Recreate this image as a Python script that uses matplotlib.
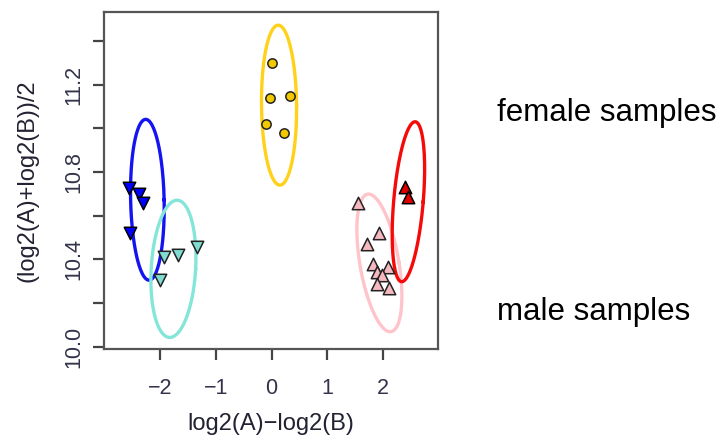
#MA-style plot of two-colour samples with group ellipses
import matplotlib.pyplot as plt
import numpy as np

plt.rcParams['font.family'] = ['Liberation Sans', 'DejaVu Sans']

#points per group: x = log2(A)-log2(B), y = (log2(A)+log2(B))/2
blue_x = [-2.55, -2.37, -2.30, -2.53]
blue_y = [10.725, 10.70, 10.66, 10.52]
cyan_x = [-1.93, -1.67, -1.34, -1.99]
cyan_y = [10.41, 10.42, 10.455, 10.305]
gold_x = [0.00, -0.02, 0.33, -0.10, 0.22]
gold_y = [11.30, 11.14, 11.15, 11.02, 10.98]
pink_x = [1.55, 1.93, 1.71, 1.82, 2.08, 1.89, 1.97, 1.88, 2.11]
pink_y = [10.66, 10.52, 10.47, 10.38, 10.366, 10.343, 10.33, 10.287, 10.267]
red_x = [2.39, 2.45]
red_y = [10.73, 10.686]

#ellipses: centre, half width, half height, shift of the top point
ell_names = ['blue', 'cyan', 'gold', 'pink', 'red']
ell_cx = [-2.223, -1.757, 0.134, 1.93, 2.45]
ell_cy = [10.673, 10.357, 11.106, 10.384, 10.664]
ell_rx = [0.30, 0.398, 0.314, 0.353, 0.265]
ell_ry = [0.368, 0.314, 0.366, 0.315, 0.366]
ell_skew = [-0.03, 0.065, -0.015, -0.194, 0.119]

x_ticks = [-2, -1, 0, 1, 2]
y_ticks = [10.0, 10.2, 10.4, 10.6, 10.8, 11.0, 11.2, 11.4]
y_ticklabels = ['10.0', '', '10.4', '', '10.8', '', '11.2', '']

line_col = {'blue': '#1414f2', 'cyan': '#84e6d8', 'gold': '#ffd11a',
            'pink': '#ffc4ca', 'red': '#f50a0a'}

fig = plt.figure(figsize=(7.24, 4.40), dpi=100)
ax = fig.add_axes([0.1436, 0.2068, 0.4614, 0.7648])

t = np.linspace(0, 2 * np.pi, 200)
for i, name in enumerate(ell_names):
    ex = ell_cx[i] + ell_rx[i] * np.cos(t) + ell_skew[i] * np.sin(t)
    ey = ell_cy[i] + ell_ry[i] * np.sin(t)
    ax.plot(ex, ey, color=line_col[name], lw=2.4, zorder=2)

ax.scatter(blue_x, blue_y, marker='v', s=80, c='#0000ff', edgecolors='black', linewidths=1.1, zorder=3)
ax.scatter(cyan_x, cyan_y, marker='v', s=80, c='#7fdcd0', edgecolors='#222222', linewidths=1.1, zorder=3)
ax.scatter(gold_x, gold_y, marker='o', s=45, c='#f2c800', edgecolors='#222222', linewidths=1.1, zorder=3)
ax.scatter(pink_x, pink_y, marker='^', s=80, c='#f5b8be', edgecolors='#222222', linewidths=1.1, zorder=3)
ax.scatter(red_x, red_y, marker='^', s=80, c='#e00000', edgecolors='black', linewidths=1.1, zorder=3)

ax.set_xlim(-3.0, 2.98)
ax.set_ylim(9.99, 11.53)
ax.set_xticks(x_ticks)
ax.set_yticks(y_ticks)
ax.set_yticklabels(y_ticklabels, rotation=90, va='center')

for sp in ax.spines.values():
    sp.set_color('#555555')
    sp.set_linewidth(1.6)
ax.tick_params(axis='both', direction='out', length=8, width=1.6, color='#444444',
               labelsize=15.5, labelcolor='#33334a')
ax.tick_params(axis='x', pad=13)
ax.tick_params(axis='y', pad=6)

ax.set_xlabel('log2(A)\u2212log2(B)', fontsize=17, color='#222233', labelpad=10)
ax.set_ylabel('(log2(A)+log2(B))/2', fontsize=17, color='#222233', labelpad=18)

fig.text(0.6865, 0.743, 'female samples', fontsize=22.5, va='center', ha='left')
fig.text(0.6865, 0.291, 'male samples', fontsize=22.5, va='center', ha='left')

plt.savefig('out.png', dpi=100)
